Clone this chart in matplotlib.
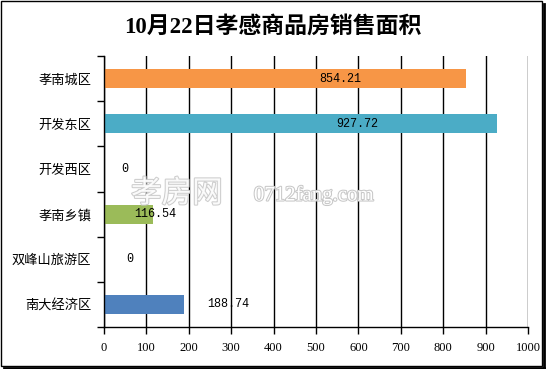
import matplotlib.pyplot as plt
import matplotlib.patheffects as pe
from matplotlib.patches import Rectangle
import numpy as np

plt.rcParams['font.family'] = ['Noto Sans CJK SC', 'DejaVu Sans']

districts = ['孝南城区', '开发东区', '开发西区', '孝南乡镇', '双峰山旅游区', '南大经济区']
areas = [854.21, 927.72, 0, 116.54, 0, 188.74]
colors = ['#F79646', '#4BACC6', '#4BACC6', '#9BBB59', '#9BBB59', '#4F81BD']
value_text = ['854.21', '927.72', '0', '116.54', '0', '188.74']
# where the value labels sit (x in data units)
label_x = [557, 597, 50, 120, 60, 292]

fig = plt.figure(figsize=(5.46, 3.69), dpi=100)
ax = fig.add_axes([0.1905, 0.1138, 0.7765, 0.734])

ypos = np.arange(len(districts))
ax.barh(ypos, areas, height=0.42, color=colors, zorder=3)

for y, x, t in zip(ypos, label_x, value_text):
    ax.text(x, y, t, ha='center', va='center', fontsize=8.5,
            family=['Liberation Mono', 'DejaVu Sans Mono'], zorder=7)

ax.set_xlim(0, 1000)
ax.set_ylim(len(districts) - 0.5, -0.5)
ax.set_xticks(np.arange(0, 1001, 100))
ax.set_xticklabels([str(v) for v in range(0, 1001, 100)],
                   family=['Liberation Serif', 'DejaVu Serif'], fontsize=9)
ax.set_yticks(ypos)
ax.set_yticklabels(districts, fontsize=9.5)
ax.set_yticks(np.arange(-0.5, len(districts) + 0.5, 1), minor=True)
ax.tick_params(axis='y', which='major', length=0, pad=9)
ax.tick_params(axis='y', which='minor', length=5, width=1, direction='out', color='black')
ax.tick_params(axis='x', length=5, width=1, direction='out', pad=6)

ax.grid(axis='x', color='black', linewidth=1, zorder=1)
for s in ['top', 'right']:
    ax.spines[s].set_visible(False)
for s in ['left', 'bottom']:
    ax.spines[s].set_linewidth(1)
    ax.spines[s].set_zorder(5)

fig.text(0.5, 0.927, '10月22日孝感商品房销售面积', ha='center', va='center',
         fontsize=16.5, fontweight='bold', family=['Liberation Serif', 'Noto Sans CJK SC'])

# faint watermark
fig.text(0.24, 0.475, '孝房网', fontsize=22, color='white', alpha=0.9, ha='left', va='center',
         zorder=6, path_effects=[pe.withStroke(linewidth=1.5, foreground='#c8c8c8')])
fig.text(0.465, 0.47, '0712fang.com', fontsize=15, color='white', ha='left', va='center',
         family=['Liberation Serif', 'DejaVu Serif'], zorder=6,
         path_effects=[pe.withStroke(linewidth=1.5, foreground='#c8c8c8')])

# chart border with a shadow on the right and bottom
fig.patches.append(Rectangle((0.002, 0.008), 0.991, 0.989, transform=fig.transFigure,
                             fill=False, edgecolor='black', linewidth=1))
fig.add_artist(plt.Line2D([0.996, 0.996], [0.004, 0.99], transform=fig.transFigure,
                          color='black', linewidth=2))
fig.add_artist(plt.Line2D([0.008, 0.996], [0.004, 0.004], transform=fig.transFigure,
                          color='black', linewidth=2))

fig.savefig('out.png', dpi=100)
